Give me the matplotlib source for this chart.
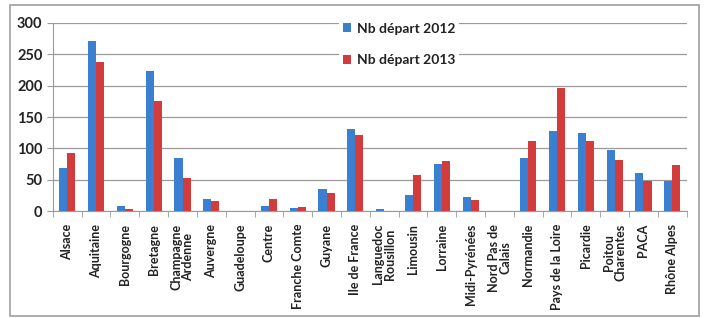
import numpy as np
import matplotlib.pyplot as plt
from matplotlib.patches import Rectangle

regions = ["Alsace", "Aquitaine", "Bourgogne", "Bretagne", "Champagne\nArdenne",
           "Auvergne", "Guadeloupe", "Centre", "Franche Comte", "Guyane",
           "Ile de France", "Languedoc\nRousillon", "Limousin", "Lorraine",
           "Midi-Pyrénées", "Nord Pas de\nCalais", "Normandie", "Pays de la Loire",
           "Picardie", "Poitou\nCharentes", "PACA", "Rhône Alpes"]
depart_2012 = [69, 271, 8, 223, 84, 19, 0, 9, 5, 36, 131, 3, 26, 75, 23, 0,
               85, 127, 125, 98, 61, 48]
depart_2013 = [92, 238, 3, 175, 53, 16, 0, 20, 7, 29, 122, 0, 58, 80, 17, 0,
               112, 197, 112, 81, 48, 74]

plt.rcParams['font.family'] = ['Lato', 'DejaVu Sans']

fig = plt.figure(figsize=(7.05, 3.18), dpi=100)
fig.patches.append(Rectangle((10 / 705, 2 / 318), 689 / 705, 311 / 318,
                             transform=fig.transFigure, fill=False,
                             edgecolor='#a0a0a0', linewidth=1.2))
ax = fig.add_axes([0.075, 0.336, 0.899, 0.592])

x = np.arange(len(regions))
w = 0.28
ax.bar(x - w / 2, depart_2012, w, color='#3b7fd1', label='Nb départ 2012', zorder=3)
ax.bar(x + w / 2, depart_2013, w, color='#d33c3c', label='Nb départ 2013', zorder=3)

ax.set_xlim(-0.5, len(regions) - 0.5)
ax.set_ylim(0, 300)
ax.set_yticks(range(0, 301, 50))
ax.yaxis.grid(True, color='#9a9a9a', linewidth=0.9, zorder=0)
for s in ['top', 'right']:
    ax.spines[s].set_visible(False)
for s in ['left', 'bottom']:
    ax.spines[s].set_color('#9a9a9a')

ax.set_xticks(x)
ax.set_xticklabels(regions, rotation=90, fontsize=9, color='#222222',
                   linespacing=0.95, va='top', fontweight='bold')
ax.set_xticks(np.arange(-0.5, len(regions), 1), minor=True)
ax.tick_params(axis='x', which='major', length=0, pad=9)
ax.tick_params(axis='x', which='minor', length=4, color='#9a9a9a')
ax.tick_params(axis='y', length=4, color='#9a9a9a', labelsize=10.5, labelcolor='#222222')
for t in ax.get_yticklabels():
    t.set_fontweight('bold')

leg = ax.legend(loc='upper left', bbox_to_anchor=(0.44, 1.06), frameon=True,
                facecolor='white', edgecolor='none', framealpha=1,
                fontsize=10, handlelength=0.6, handleheight=0.6,
                handletextpad=0.4, labelspacing=1.4, borderpad=0.3)
for t in leg.get_texts():
    t.set_color('#222222')
    t.set_fontweight('bold')
leg.set_zorder(5)

fig.savefig('out.png', dpi=100)
